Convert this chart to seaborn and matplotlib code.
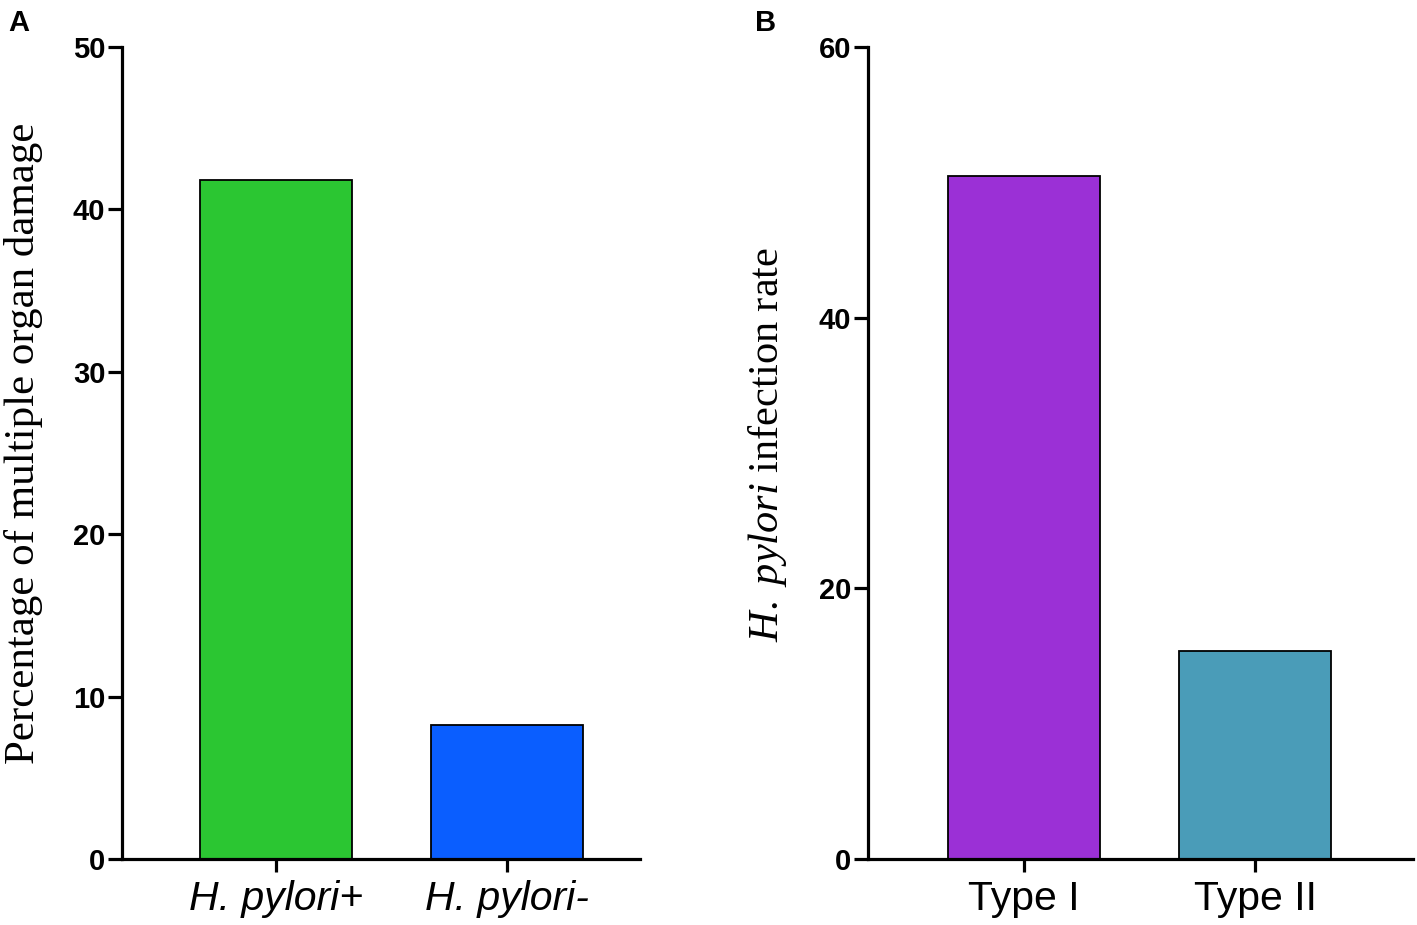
import matplotlib
matplotlib.use('Agg')
import pandas as pd
import seaborn as sns
from matplotlib import pyplot as plt

# panel A
groups_a = ['H. pylori+', 'H. pylori-']
damage_pct = [41.8, 8.25]
colors_a = ['#2BC632', '#0A5EFF']

# panel B
groups_b = ['Type I', 'Type II']
infection_rate = [50.5, 15.35]
colors_b = ['#9B30D6', '#4A9CB8']

sns.set_style('ticks')
plt.rcParams['font.family'] = ['Liberation Sans', 'DejaVu Sans']
plt.rcParams['mathtext.fontset'] = 'custom'
plt.rcParams['mathtext.rm'] = 'Liberation Serif'
plt.rcParams['mathtext.it'] = 'Liberation Serif:italic'
plt.rcParams['text.color'] = 'black'
plt.rcParams['axes.labelcolor'] = 'black'
plt.rcParams['xtick.color'] = 'black'
plt.rcParams['ytick.color'] = 'black'
plt.rcParams['axes.edgecolor'] = 'black'


def style_axis(ax, ylim, yticks, xlim):
    ax.set_ylim(*ylim)
    ax.set_yticks(yticks)
    ax.set_xlim(*xlim)
    ax.spines['top'].set_visible(False)
    ax.spines['right'].set_visible(False)
    for s in ['left', 'bottom']:
        ax.spines[s].set_linewidth(2.3)
    ax.tick_params(axis='y', length=10, width=2.3, labelsize=21, pad=2)
    ax.tick_params(axis='x', length=9, width=2.3, labelsize=29.5, pad=6)
    for lab in ax.get_yticklabels():
        lab.set_fontweight('bold')
    ax.set_xlabel('')


fig = plt.figure(figsize=(14.17, 9.25), dpi=100)
ax_a = fig.add_axes([0.0861, 0.0714, 0.3656, 0.8778])
ax_b = fig.add_axes([0.6126, 0.0714, 0.3846, 0.8778])

df_a = pd.DataFrame({'group': groups_a, 'value': damage_pct})
sns.barplot(data=df_a, x='group', y='value', hue='group', palette=colors_a,
            saturation=1, width=0.66, edgecolor='black', linewidth=1.3,
            legend=False, ax=ax_a)
style_axis(ax_a, (0, 50), [0, 10, 20, 30, 40, 50], (-0.667, 1.576))
for lab in ax_a.get_xticklabels():
    lab.set_fontstyle('italic')
ax_a.set_ylabel('Percentage of multiple organ damage', fontfamily='Liberation Serif',
                fontsize=31)
ax_a.yaxis.set_label_coords(-0.152, 0.512)

df_b = pd.DataFrame({'group': groups_b, 'value': infection_rate})
sns.barplot(data=df_b, x='group', y='value', hue='group', palette=colors_b,
            saturation=1, width=0.66, edgecolor='black', linewidth=1.3,
            legend=False, ax=ax_b)
style_axis(ax_b, (0, 60), [0, 20, 40, 60], (-0.675, 1.684))
ax_b.set_ylabel(r'$\mathit{H.\ pylori}$ infection rate', fontfamily='Liberation Serif',
                fontsize=30.5)
ax_b.yaxis.set_label_coords(-0.145, 0.51)

fig.text(0.006, 0.99, 'A', fontsize=21, fontweight='bold', va='top')
fig.text(0.533, 0.99, 'B', fontsize=21, fontweight='bold', va='top')

fig.savefig('out.png', dpi=100)
